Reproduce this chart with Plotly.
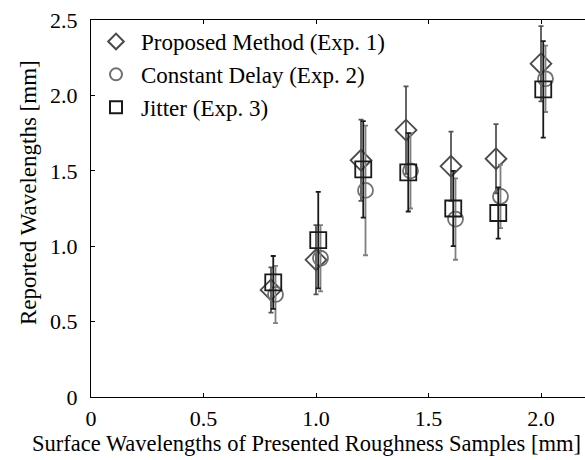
import plotly.graph_objects as go

x_base = [0.8, 1.0, 1.2, 1.4, 1.6, 1.8, 2.0]

exp1_mean = [0.71, 0.91, 1.57, 1.77, 1.53, 1.58, 2.21]
exp1_err = [0.15, 0.23, 0.27, 0.29, 0.23, 0.23, 0.25]

exp2_mean = [0.68, 0.92, 1.37, 1.50, 1.18, 1.33, 2.11]
exp2_err = [0.19, 0.22, 0.43, 0.25, 0.27, 0.21, 0.22]

exp3_mean = [0.76, 1.04, 1.51, 1.49, 1.25, 1.22, 2.04]
exp3_err = [0.175, 0.32, 0.32, 0.26, 0.25, 0.17, 0.32]

names = ["Proposed Method (Exp. 1)", "Constant Delay (Exp. 2)", "Jitter (Exp. 3)"]
x_ticks = [0, 0.5, 1.0, 1.5, 2.0]
x_tick_text = ["0", "0.5", "1.0", "1.5", "2.0"]
y_ticks = [0, 0.5, 1.0, 1.5, 2.0, 2.5]
y_tick_text = ["0", "0.5", "1.0", "1.5", "2.0", "2.5"]
x_title = "Surface Wavelengths of Presented Roughness Samples [mm]"
y_title = "Reported Wavelengths [mm]"

FONT = "Liberation Serif, Times New Roman, serif"
FS = 22

fig = go.Figure()

series = [
    (exp1_mean, exp1_err, 0.0, "diamond-open", "#4a4a4a", "#555555", 16),
    (exp2_mean, exp2_err, 0.02, "circle-open", "#707070", "#808080", 15),
    (exp3_mean, exp3_err, 0.01, "square-open", "#1a1a1a", "#1a1a1a", 16),
]
for (m, e, off, sym, mc, ec, sz), nm in zip(series, names):
    fig.add_trace(go.Scatter(
        x=[v + off for v in x_base], y=m, mode="markers", name=nm,
        marker=dict(symbol=sym, size=sz, color=mc, line=dict(width=1.8, color=mc)),
        error_y=dict(type="data", array=e, visible=True, color=ec, thickness=1.8, width=2.5),
    ))

fig.add_annotation(
    text=x_title, xref="paper", yref="paper",
    x=(306 - 91) / 494, y=(397 - 443) / 377, xanchor="center", yanchor="middle",
    showarrow=False, font=dict(family=FONT, size=22.5, color="black"),
)
fig.add_annotation(
    text=y_title, xref="paper", yref="paper", textangle=-90,
    x=(28 - 91) / 494, y=(397 - 193) / 377, xanchor="center", yanchor="middle",
    showarrow=False, font=dict(family=FONT, size=23, color="black"),
)

fig.update_layout(
    width=585, height=460,
    margin=dict(l=91, r=0, t=20, b=63),
    paper_bgcolor="white", plot_bgcolor="white",
    font=dict(family=FONT, size=FS, color="black"),
    showlegend=True,
    legend=dict(x=0.0, y=1.0, xanchor="left", yanchor="top", bgcolor="rgba(0,0,0,0)",
                font=dict(family=FONT, size=23, color="black"), tracegroupgap=0,
                itemsizing="constant", itemwidth=40),
    xaxis=dict(range=[0, 494 / 225], tickvals=x_ticks, ticktext=x_tick_text,
               showgrid=False, zeroline=False, showline=True, linecolor="black", linewidth=1,
               mirror="ticks", ticks="inside", ticklen=4, tickcolor="black",
               ticklabelstandoff=2,
               tickfont=dict(family=FONT, size=FS)),
    yaxis=dict(range=[0, 2.5], tickvals=y_ticks, ticktext=y_tick_text,
               showgrid=False, zeroline=False, showline=True, linecolor="black", linewidth=1,
               mirror=False, ticks="inside", ticklen=4, tickcolor="black",
               ticklabelstandoff=8,
               tickfont=dict(family=FONT, size=FS)),
    yaxis2=dict(range=[0, 2.5], overlaying="y", side="right", tickvals=y_ticks,
                showticklabels=False, showgrid=False, zeroline=False, showline=False,
                ticks="inside", ticklen=4, tickcolor="black"),
)

fig.write_html("out.html")
